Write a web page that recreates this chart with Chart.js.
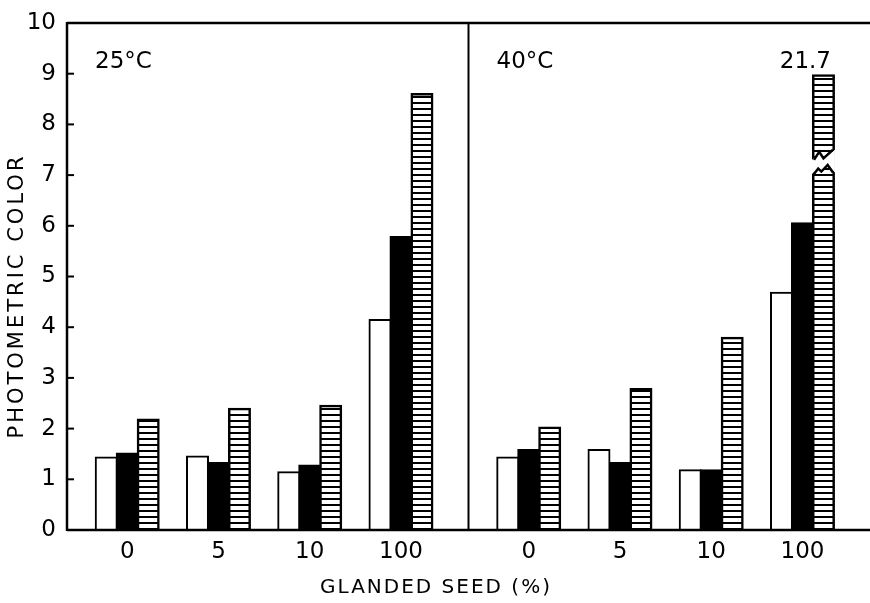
<!DOCTYPE html>
<html>
<head>
<meta charset="utf-8">
<script src="https://cdn.jsdelivr.net/npm/chart.js@4.4.0/dist/chart.umd.min.js"></script>
<style>
  html, body { margin: 0; padding: 0; background: #fff; }
</style>
</head>
<body>
<canvas id="myChart" width="870" height="603"></canvas>
<script>
// categories
const seedLabels = ['0', '5', '10', '100'];
const panelLabels = ['25°C', '40°C'];

// values (three bar types per group)
const white25 = [1.43, 1.45, 1.14, 4.14];
const black25 = [1.51, 1.32, 1.27, 5.78];
const hatch25 = [2.18, 2.39, 2.45, 8.6];
const white40 = [1.43, 1.58, 1.18, 4.68];
const black40 = [1.58, 1.32, 1.18, 6.05];
const hatch40 = [2.02, 2.78, 3.79, 21.7];

const FONT = 'DejaVu Sans';
const PANEL = 4.4;      // width of one panel in group units
const FIRST = 0.66;     // first group offset inside a panel
const Y_MAX = 10;
const BREAK_TOP = 8.97; // where a broken bar is cut off

const groupPos = [];
panelLabels.forEach((p, k) => {
  seedLabels.forEach((s, i) => groupPos.push(k * PANEL + FIRST + i));
});
const allLabels = seedLabels.concat(seedLabels);
const allValues = [white25.concat(white40), black25.concat(black40), hatch25.concat(hatch40)];

function toPoints(vals) {
  return vals.map((v, i) => ({ x: groupPos[i], y: v > Y_MAX ? BREAK_TOP : v }));
}

const canvas = document.getElementById('myChart');
const ctx = canvas.getContext('2d');

function stripes() {
  const c = document.createElement('canvas');
  c.width = 8; c.height = 6;
  const g = c.getContext('2d');
  g.fillStyle = '#fff'; g.fillRect(0, 0, 8, 6);
  g.fillStyle = '#000'; g.fillRect(0, 0, 8, 2);
  return ctx.createPattern(c, 'repeat');
}

const framePlugin = {
  id: 'frame',
  afterDatasetsDraw(chart) {
    const c = chart.ctx, a = chart.chartArea;
    const x = chart.scales.x, y = chart.scales.y;
    c.save();

    // broken bar(s)
    const meta = chart.getDatasetMeta(2);
    allValues[2].forEach((v, i) => {
      if (v <= Y_MAX) return;
      const bar = meta.data[i];
      const L = bar.x - bar.width / 2, R = bar.x + bar.width / 2, w = R - L;
      const up = [[L - 1, 7.30], [L + 0.3 * w, 7.46], [L + 0.5 * w, 7.33], [R + 1, 7.5]];
      const lo = [[L - 1, 7.02], [L + 0.25 * w, 7.13], [L + 0.4 * w, 7.07], [L + 0.7 * w, 7.2], [R + 1, 7.05]];
      c.fillStyle = '#fff';
      c.beginPath();
      up.forEach((p, j) => j ? c.lineTo(p[0], y.getPixelForValue(p[1])) : c.moveTo(p[0], y.getPixelForValue(p[1])));
      lo.slice().reverse().forEach(p => c.lineTo(p[0], y.getPixelForValue(p[1])));
      c.closePath();
      c.fill();
      c.strokeStyle = '#000';
      c.lineWidth = 2.5;
      [up, lo].forEach(line => {
        c.beginPath();
        line.forEach((p, j) => {
          const px = Math.min(Math.max(p[0], L + 1), R - 1);
          j ? c.lineTo(px, y.getPixelForValue(p[1])) : c.moveTo(px, y.getPixelForValue(p[1]));
        });
        c.stroke();
      });
      c.fillStyle = '#000';
      c.font = '23px ' + FONT;
      c.textAlign = 'right';
      c.textBaseline = 'middle';
      c.fillText(String(v), R - 3, 62);
    });

    // axes and frame
    c.strokeStyle = '#000';
    c.lineWidth = 2.5;
    c.beginPath();
    c.moveTo(a.left, a.top); c.lineTo(a.right, a.top);
    c.moveTo(a.left, a.top - 1); c.lineTo(a.left, a.bottom + 1);
    c.moveTo(a.left, a.bottom); c.lineTo(a.right, a.bottom);
    c.stroke();
    c.lineWidth = 2;
    const dx = x.getPixelForValue(PANEL);
    c.beginPath();
    c.moveTo(dx, a.top); c.lineTo(dx, a.bottom);
    c.stroke();
    for (let t = 1; t < Y_MAX; t++) {
      const py = y.getPixelForValue(t);
      c.beginPath(); c.moveTo(a.left, py); c.lineTo(a.left + 7, py); c.stroke();
    }

    // panel labels and axis titles
    c.fillStyle = '#000';
    c.font = '23px ' + FONT;
    c.textAlign = 'left';
    c.textBaseline = 'middle';
    panelLabels.forEach((p, k) => c.fillText(p, x.getPixelForValue(k * PANEL) + 28, 62));

    c.font = '20px ' + FONT;
    c.letterSpacing = '2px';
    c.textAlign = 'center';
    c.fillText('GLANDED SEED (%)', 436, 588);
    c.font = '21px ' + FONT;
    c.letterSpacing = '3px';
    c.translate(18, 296);
    c.rotate(-Math.PI / 2);
    c.fillText('PHOTOMETRIC COLOR', 0, 0);
    c.restore();
  }
};

const config = {
  type: 'bar',
  data: {
    datasets: [
      { label: 'white', data: toPoints(allValues[0]), backgroundColor: '#fff', borderColor: '#000', borderWidth: 2 },
      { label: 'black', data: toPoints(allValues[1]), backgroundColor: '#000', borderColor: '#000', borderWidth: 2 },
      { label: 'hatched', data: toPoints(allValues[2]), backgroundColor: stripes(), borderColor: '#000', borderWidth: 2.5 }
    ]
  },
  options: {
    responsive: false,
    animation: false,
    devicePixelRatio: 1,
    categoryPercentage: 0.69,
    barPercentage: 1,
    inflateAmount: 1,
    layout: { padding: { top: 23, left: 0, right: 0, bottom: 0 } },
    plugins: { legend: { display: false }, tooltip: { enabled: false } },
    scales: {
      x: {
        type: 'linear',
        offset: false,
        min: 0,
        max: 2 * PANEL,
        grid: { display: false, offset: false },
        border: { display: false },
        afterBuildTicks: s => { s.ticks = groupPos.map(v => ({ value: v })); },
        afterFit: s => { s.height = 73; },
        ticks: {
          autoSkip: false, maxRotation: 0, padding: 0, color: '#000',
          font: { family: FONT, size: 23 },
          callback: (v, i) => allLabels[i]
        }
      },
      y: {
        min: 0,
        max: Y_MAX,
        grid: { display: false },
        border: { display: false },
        afterFit: s => { s.width = 67; },
        ticks: { stepSize: 1, padding: 3, color: '#000', font: { family: FONT, size: 23 } }
      }
    }
  },
  plugins: [framePlugin]
};

const myChart = new Chart(ctx, config);
</script>
</body>
</html>
